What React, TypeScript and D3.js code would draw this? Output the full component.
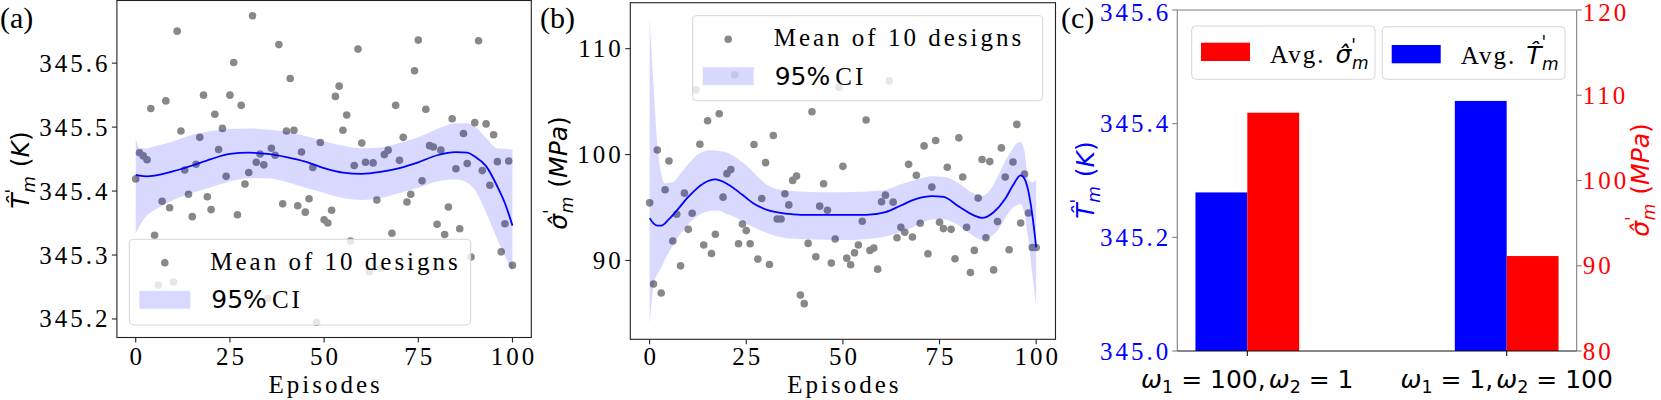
import React from 'react';
import * as d3 from 'd3';

// ---------------- DATA ----------------
const epTicks = [0, 25, 50, 75, 100];

// (a) mean temperature of 10 designs per episode (0..100)
const tempMeans = [
  345.419, 345.460, 345.455, 345.449, 345.529, 345.331, 345.253, 345.384, 345.541, 345.374,
  345.258, 345.650, 345.494, 345.433, 345.395, 345.360, 345.442, 345.484, 345.550, 345.391,
  345.371, 345.520, 345.465, 345.498, 345.423, 345.550, 345.601, 345.363, 345.534, 345.411,
  345.429, 345.674, 345.445, 345.458, 345.441, 345.232, 345.467, 345.456, 345.629, 345.380,
  345.494, 345.576, 345.495, 345.377, 345.461, 345.367, 345.388, 345.437, 345.195, 345.476,
  345.355, 345.350, 345.370, 345.548, 345.564, 345.495, 345.519, 345.322, 345.440, 345.622,
  345.475, 345.445, 345.274, 345.444, 345.386, 345.279, 345.457, 345.464, 345.334, 345.534,
  345.448, 345.484, 345.383, 345.395, 345.588, 345.636, 345.416, 345.528, 345.471, 345.469,
  345.348, 345.464, 345.332, 345.375, 345.513, 345.435, 345.341, 345.490, 345.443, 345.297,
  345.507, 345.635, 345.432, 345.505, 345.409, 345.488, 345.446, 345.305, 345.349, 345.447,
  345.284,
];
const fitEpT = [0, 1, 3, 5, 10, 15, 20, 25, 30, 35, 40, 45, 50, 55, 60, 65, 70, 75, 80, 85, 88, 90, 93, 96, 98, 100];
const fitMeanT = [345.4255, 345.424, 345.423, 345.424, 345.431, 345.440, 345.450, 345.458, 345.460, 345.458, 345.453, 345.446, 345.436, 345.429, 345.427, 345.430, 345.436, 345.445, 345.456, 345.461, 345.460, 345.454, 345.439, 345.407, 345.381, 345.346];
const upperT = [345.483, 345.467, 345.467, 345.470, 345.478, 345.488, 345.494, 345.497, 345.498, 345.496, 345.493, 345.486, 345.478, 345.471, 345.467, 345.468, 345.475, 345.484, 345.497, 345.506, 345.506, 345.501, 345.483, 345.467, 345.466, 345.465];
const lowerT = [345.334, 345.345, 345.362, 345.370, 345.386, 345.397, 345.406, 345.415, 345.420, 345.420, 345.414, 345.405, 345.397, 345.389, 345.386, 345.389, 345.397, 345.405, 345.415, 345.418, 345.413, 345.402, 345.366, 345.324, 345.298, 345.274];

// (b) mean stress of 10 designs per episode (0..100)
const stressMeans = [
  95.44, 87.78, 100.44, 86.93, 96.68, 99.40, 91.84, 94.37, 89.49, 96.36,
  92.94, 94.46, 106.11, 100.98, 91.46, 103.20, 90.66, 92.47, 103.86, 95.98,
  98.20, 98.58, 107.53, 91.58, 93.45, 92.82, 91.58, 100.95, 90.13, 95.85,
  99.24, 89.62, 101.80, 93.92, 93.92, 96.30, 95.25, 97.56, 97.97, 86.74,
  85.92, 91.61, 104.05, 90.35, 95.13, 97.25, 94.75, 89.75, 92.03, 106.36,
  98.89, 90.22, 89.59, 90.73, 91.46, 93.70, 103.26, 90.95, 91.17, 89.18,
  95.54, 96.17, 106.96, 95.51, 92.15, 93.13, 92.66, 99.08, 92.22, 98.04,
  93.51, 100.82, 90.63, 96.93, 101.33, 93.61, 93.01, 98.80, 92.94, 90.16,
  101.58, 97.88, 93.13, 88.86, 90.95, 95.89, 99.53, 92.15, 99.34, 89.11,
  93.67, 100.63, 97.88, 91.01, 99.30, 102.85, 93.54, 98.16, 94.49, 91.23,
  91.23,
];
const fitEpS = [0, 1, 2, 3, 5, 7, 10, 14, 17, 20, 24, 27, 31, 36, 40, 48, 56, 61, 65, 69, 73, 76, 80, 84, 86, 89, 92, 94, 96, 97, 98, 99, 100];
const fitMeanS = [94.0, 93.5, 93.3, 93.3, 93.9, 94.7, 96.0, 97.3, 97.66, 97.25, 96.2, 95.35, 94.7, 94.4, 94.3, 94.3, 94.3, 94.56, 95.19, 95.82, 96.08, 96.0, 95.1, 94.24, 94.02, 94.56, 95.82, 97.1, 98.04, 97.7, 96.5, 94.3, 91.23];
const bandEpS = [0, 1, 2, 3, 4, 6, 8, 10, 12, 14, 16, 18, 20, 22, 25, 28, 31, 35, 40, 50, 60, 65, 70, 73, 76, 80, 83, 86, 88, 90, 92, 94, 95, 96, 97, 98, 99, 100];
const upperS = [112.9, 106.7, 101.0, 98.2, 97.3, 97.4, 98.2, 99.1, 99.9, 100.3, 100.4, 100.35, 100.2, 99.8, 99.0, 97.9, 97.0, 96.6, 96.5, 96.45, 96.6, 97.2, 97.75, 97.95, 97.9, 97.3, 96.5, 96.1, 96.6, 97.9, 99.4, 100.6, 101.1, 101.2, 100.3, 97.6, 97.4, 97.6];
const lowerS = [84.0, 87.6, 88.7, 89.3, 90.1, 91.4, 92.5, 93.4, 94.1, 94.5, 94.7, 94.7, 94.4, 94.1, 93.5, 92.95, 92.5, 92.12, 92.0, 91.93, 92.2, 92.7, 93.45, 93.9, 93.9, 93.3, 92.5, 91.95, 92.2, 92.8, 94.0, 95.0, 95.2, 95.3, 94.4, 91.9, 88.7, 85.7];

const tempTicksA = [345.2, 345.3, 345.4, 345.5, 345.6];
const stressTicksB = [90, 100, 110];

// (c) bar chart
const barGroups = [
  { w1: '100', w2: '1' },
  { w1: '1', w2: '100' },
];
const barTemp = [345.279, 345.440];
const barStress = [107.95, 91.14];
const tempTicksC = [345.0, 345.2, 345.4, 345.6];
const stressTicksC = [80, 90, 100, 110, 120];

// ---------------- STYLE ----------------
const SERIF = 'Liberation Serif, Times New Roman, serif';
const SANS = 'DejaVu Sans, sans-serif';
const BLUE = '#0000ff';
const RED = '#ff0000';
const PT = '#888888';
const BAND = 'rgba(0,0,255,0.15)';
const FS = 25;

function MathLabel(props: any) {
  const { x, y, base, unit, color = '#000', rotate = -90, size = FS, anchor = 'middle' } = props;
  const small = size * 0.68;
  return (
    <text
      transform={`translate(${x},${y}) rotate(${rotate})`}
      textAnchor={anchor}
      fontFamily={SANS}
      fontSize={size}
      fill={color}
    >
      <tspan fontStyle="italic">{base + '\u0302'}</tspan>
      <tspan fontSize={small} dy={-11}>'</tspan>
      <tspan fontSize={small} fontStyle="italic" dx={-4} dy={17}>m</tspan>
      {unit ? <tspan dy={-6} dx={9}>(</tspan> : null}
      {unit ? <tspan fontStyle="italic">{unit}</tspan> : null}
      {unit ? <tspan>)</tspan> : null}
    </text>
  );
}

function ScatterPanel(props: any) {
  const { box, values, fitEp, fitMean, bandEp, upper, lower, yTicks, yFmt, legend, tag, tagX, ylabel } = props;
  const bx = box;
  const x = d3.scaleLinear().domain([-5, 105]).range([bx.l, bx.r]);
  const ext = d3.extent([...values, ...upper, ...lower]) as [number, number];
  const pad = (ext[1] - ext[0]) * 0.05;
  const y = d3.scaleLinear().domain([ext[0] - pad, ext[1] + pad]).range([bx.b, bx.t]);
  const area = d3
    .area<number>()
    .x((_: number, i: number) => x(bandEp[i]))
    .y0((_: number, i: number) => y(lower[i]))
    .y1((_: number, i: number) => y(upper[i]))
    .curve(d3.curveMonotoneX);
  const line = d3
    .line<number>()
    .x((_: number, i: number) => x(fitEp[i]))
    .y((d: number) => y(d))
    .curve(d3.curveMonotoneX);
  const lg = legend;
  return (
    <g>
      {values.map((v: number, i: number) => (
        <circle key={i} cx={x(i)} cy={y(v)} r={3.8} fill={PT} />
      ))}
      <path d={area(upper) || ''} fill={BAND} />
      <path d={line(fitMean) || ''} fill="none" stroke={BLUE} strokeWidth={1.8} />
      <rect x={bx.l} y={bx.t} width={bx.r - bx.l} height={bx.b - bx.t} fill="none" stroke="#222" strokeWidth={1.1} />
      {epTicks.map((t) => (
        <g key={t}>
          <line x1={x(t)} x2={x(t)} y1={bx.b} y2={bx.b + 5} stroke="#222" strokeWidth={1.1} />
          <text x={x(t) + 1.5} y={365} textAnchor="middle" fontFamily={SERIF} fontSize={FS} letterSpacing={3}>
            {t}
          </text>
        </g>
      ))}
      {yTicks.map((t: number) => (
        <g key={t}>
          <line x1={bx.l - 5} x2={bx.l} y1={y(t)} y2={y(t)} stroke="#222" strokeWidth={1.1} />
          <text x={bx.l - 6.5} y={y(t) + 8.5} textAnchor="end" fontFamily={SERIF} fontSize={FS} letterSpacing={3}>
            {yFmt(t)}
          </text>
        </g>
      ))}
      <text x={(bx.l + bx.r) / 2 + 1.5} y={392.5} textAnchor="middle" fontFamily={SERIF} fontSize={FS} letterSpacing={3}>
        Episodes
      </text>
      {ylabel}
      <text x={tagX} y={28} fontFamily={SERIF} fontSize={30}>
        {tag}
      </text>
      <rect x={lg.x} y={lg.y} width={lg.w} height={lg.h} rx={4} fill="rgba(255,255,255,0.8)" stroke="#d6d6d6" strokeWidth={1} />
      <circle cx={lg.x + 35.5} cy={lg.y + 23.5} r={3.8} fill={PT} />
      <text x={lg.x + 81} y={lg.y + 30.5} fontFamily={SERIF} fontSize={FS} letterSpacing={3}>
        Mean of 10 designs
      </text>
      <rect x={lg.x + 10} y={lg.y + 51.5} width={51} height={18} fill={BAND} />
      <text x={lg.x + 82} y={lg.y + 69} fontSize={FS}>
        <tspan fontFamily={SANS}>95%</tspan>
        <tspan fontFamily={SERIF} dx={5} letterSpacing={3}>CI</tspan>
      </text>
    </g>
  );
}

function BarPanel() {
  const bx = { l: 1177.3, r: 1576.7, t: 10, b: 351 };
  const x = d3.scaleLinear().domain([-0.27, 1.27]).range([bx.l, bx.r]);
  const yT = d3.scaleLinear().domain([345.0, 345.6]).range([bx.b, bx.t]);
  const yS = d3.scaleLinear().domain([80, 120]).range([bx.b, bx.t]);
  const bw = 0.2;
  return (
    <g>
      {barTemp.map((v, i) => (
        <rect key={'t' + i} x={x(i - bw)} y={yT(v)} width={x(i) - x(i - bw)} height={yT(345.0) - yT(v)} fill={BLUE} />
      ))}
      {barStress.map((v, i) => (
        <rect key={'s' + i} x={x(i)} y={yS(v)} width={x(i + bw) - x(i)} height={yS(80) - yS(v)} fill={RED} />
      ))}
      <line x1={bx.l} x2={bx.r} y1={bx.t} y2={bx.t} stroke="#808080" strokeWidth={1.1} />
      <line x1={bx.l} x2={bx.l} y1={bx.t} y2={bx.b} stroke="#808080" strokeWidth={1.1} />
      <line x1={bx.r} x2={bx.r} y1={bx.t} y2={bx.b} stroke="#808080" strokeWidth={1.1} />
      <line x1={bx.l} x2={bx.r} y1={bx.b} y2={bx.b} stroke="#111" strokeWidth={1.1} />
      {tempTicksC.map((t) => (
        <g key={t}>
          <line x1={bx.l - 5} x2={bx.l} y1={yT(t)} y2={yT(t)} stroke="#808080" strokeWidth={1.1} />
          <text x={bx.l - 6} y={Math.max(yT(t) + 8.5, 21)} textAnchor="end" fontFamily={SERIF} fontSize={FS} letterSpacing={3} fill={BLUE}>
            {t.toFixed(1)}
          </text>
        </g>
      ))}
      {stressTicksC.map((t) => (
        <g key={t}>
          <line x1={bx.r} x2={bx.r + 5} y1={yS(t)} y2={yS(t)} stroke="#808080" strokeWidth={1.1} />
          <text x={bx.r + 6} y={Math.max(yS(t) + 8.5, 21)} textAnchor="start" fontFamily={SERIF} fontSize={FS} letterSpacing={3} fill={RED}>
            {t}
          </text>
        </g>
      ))}
      {barGroups.map((g, i) => (
        <g key={i}>
          <line x1={x(i)} x2={x(i)} y1={bx.b} y2={bx.b + 5} stroke="#111" strokeWidth={1.1} />
          <text x={x(i)} y={388} textAnchor="middle" fontFamily={SANS} fontSize={FS}>
            <tspan fontStyle="italic">ω</tspan>
            <tspan fontSize={17.5} dy={5}>1</tspan>
            <tspan dy={-5}>{' = ' + g.w1 + ','}</tspan>
            <tspan fontStyle="italic" dx={3}>ω</tspan>
            <tspan fontSize={17.5} dy={5}>2</tspan>
            <tspan dy={-5}>{' = ' + g.w2}</tspan>
          </text>
        </g>
      ))}
      <MathLabel x={1094} y={180} base="T" unit="K" color={BLUE} />
      <MathLabel x={1649} y={180} base="σ" unit="MPa" color={RED} />
      <text x={1061} y={28} fontFamily={SERIF} fontSize={30}>(c)</text>
      <rect x={1191.7} y={26} width={183.3} height={53.3} rx={4} fill="rgba(255,255,255,0.8)" stroke="#d6d6d6" strokeWidth={1} />
      <rect x={1201} y={42.7} width={49} height={18.3} fill={RED} />
      <text x={1270} y={62.7} fontSize={FS}>
        <tspan fontFamily={SERIF} letterSpacing={2}>Avg.</tspan>
        <tspan fontFamily={SANS} fontStyle="italic" dx={10}>{'σ\u0302'}</tspan>
        <tspan fontFamily={SANS} fontSize={17} dy={-12}>'</tspan>
        <tspan fontFamily={SANS} fontStyle="italic" fontSize={17} dx={-4} dy={18}>m</tspan>
      </text>
      <rect x={1382.3} y={26.7} width={182.7} height={52.6} rx={4} fill="rgba(255,255,255,0.8)" stroke="#d6d6d6" strokeWidth={1} />
      <rect x={1391.7} y={45} width={49} height={18.3} fill={BLUE} />
      <text x={1460.7} y={64} fontSize={FS}>
        <tspan fontFamily={SERIF} letterSpacing={2}>Avg.</tspan>
        <tspan fontFamily={SANS} fontStyle="italic" dx={10}>{'T\u0302'}</tspan>
        <tspan fontFamily={SANS} fontSize={17} dy={-16}>'</tspan>
        <tspan fontFamily={SANS} fontStyle="italic" fontSize={17} dx={-4} dy={22}>m</tspan>
      </text>
    </g>
  );
}

export default function App() {
  return (
    <svg width={1661} height={400} style={{ position: 'absolute', left: 0, top: 0, background: '#fff' }}>
      <rect x={0} y={0} width={1661} height={400} fill="#fff" />
      <ScatterPanel
        box={{ l: 116.9, r: 531.3, t: 0.5, b: 337.5 }}
        values={tempMeans}
        fitEp={fitEpT}
        fitMean={fitMeanT}
        bandEp={fitEpT}
        upper={upperT}
        lower={lowerT}
        yTicks={tempTicksA}
        yFmt={(t: number) => t.toFixed(1)}
        legend={{ x: 129.3, y: 239.3, w: 341.4, h: 85.7 }}
        tag="(a)"
        tagX={0}
        ylabel={<MathLabel x={29} y={170} base="T" unit="K" />}
      />
      <ScatterPanel
        box={{ l: 630.3, r: 1055.5, t: 2.7, b: 339.3 }}
        values={stressMeans}
        fitEp={fitEpS}
        fitMean={fitMeanS}
        bandEp={bandEpS}
        upper={upperS}
        lower={lowerS}
        yTicks={stressTicksB}
        yFmt={(t: number) => String(t)}
        legend={{ x: 692.7, y: 15.7, w: 350, h: 85 }}
        tag="(b)"
        tagX={540}
        ylabel={<MathLabel x={567} y={173} base="σ" unit="MPa" />}
      />
      <BarPanel />
    </svg>
  );
}
